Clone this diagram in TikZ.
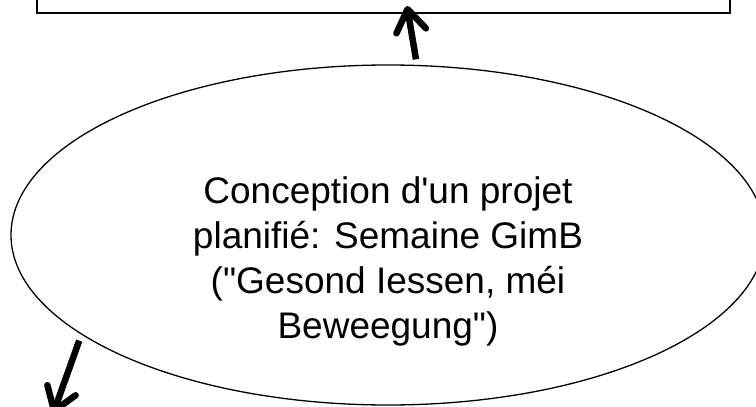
\documentclass[tikz,border=0pt]{standalone}
\usepackage{fontspec}
\setmainfont{Liberation Sans}[Ligatures=TeXOff]
\usetikzlibrary{shapes.geometric,arrows.meta,calc}
\begin{document}
\begin{tikzpicture}[x=1pt,y=-1pt,
	bigarrow/.style={line width=6.5pt, -{Straight Barb[length=22pt,width=30pt,round]}}]
	\useasboundingbox (0,0) rectangle (756,407);

	\node[draw, line width=2pt, minimum width=693pt, minimum height=60pt](goal) at (383.5,-17){};
	\node[ellipse, draw, line width=1.3pt, minimum width=754pt, minimum height=340pt, align=center, text height=214pt, font=\fontsize{37}{45}\selectfont](plan) at (388,235){Conception d'un projet\\planifié: Semaine GimB\\("Gesond Iessen, méi\\Beweegung")};

	\coordinate (next) at (53,414);

	\draw [bigarrow] ($(plan.north)+(28,-5)$) -- ($(goal.south)+(23.5,-8)$);
	\draw [bigarrow] ([xshift=4pt,yshift=-10pt]plan.197.6) -- (next);
\end{tikzpicture}
\end{document}
